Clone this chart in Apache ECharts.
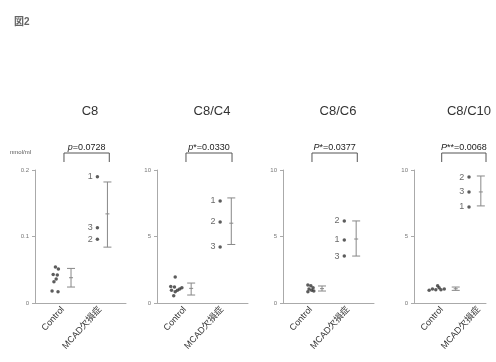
<!DOCTYPE html>
<html>
<head>
<meta charset="utf-8">
<script src="https://cdn.jsdelivr.net/npm/echarts@6/dist/echarts.min.js"></script>
<style>html,body{margin:0;padding:0;background:#fff;}#chart{width:496px;height:362px;}</style>
</head>
<body>
<div id="chart"></div>
<script>
// ---- data ----
const categories = ['Control', 'MCAD欠損症'];
const panelTitles = ['C8', 'C8/C4', 'C8/C6', 'C8/C10'];
const pTexts = ['{i|p}=0.0728', '{i|p}*=0.0330', '{i|P}*=0.0377', '{i|P}**=0.0068'];
const yMaxes = [0.2, 10, 10, 10];
const yIntervals = [0.1, 5, 5, 5];
const xMaxes = [2.7, 2.7, 2.7, 2.2];

// C8 (nmol/ml)
const c8CtrlX = [0.80, 0.88, 0.74, 0.85, 0.82, 0.76, 0.71, 0.87];
const c8CtrlY = [0.054, 0.051, 0.043, 0.042, 0.036, 0.032, 0.018, 0.017];
const c8McadX = [1.93, 1.93, 1.93];
const c8McadY = [0.190, 0.113, 0.096];
const c8McadIds = ['1', '3', '2'];
const c8Bars = [[1.22, 0.038, 0.024, 0.052], [2.20, 0.134, 0.084, 0.182]];

// C8/C4
const c4CtrlX = [0.74, 0.62, 0.72, 0.64, 0.74, 0.80, 0.86, 0.92, 0.70];
const c4CtrlY = [1.95, 1.25, 1.20, 0.95, 0.85, 0.95, 1.05, 1.15, 0.55];
const c4McadX = [1.95, 1.95, 1.95];
const c4McadY = [7.67, 6.09, 4.21];
const c4McadIds = ['1', '2', '3'];
const c4Bars = [[1.17, 1.10, 0.60, 1.50], [2.25, 6.00, 4.40, 7.90]];

// C8/C6
const c6CtrlX = [0.92, 1.00, 1.06, 0.95, 1.02, 0.92, 1.08];
const c6CtrlY = [1.35, 1.30, 1.15, 1.05, 0.95, 0.85, 0.90];
const c6McadX = [1.90, 1.90, 1.90];
const c6McadY = [6.17, 4.74, 3.53];
const c6McadIds = ['2', '1', '3'];
const c6Bars = [[1.30, 1.08, 0.90, 1.28], [2.22, 4.81, 3.53, 6.17]];

// C8/C10
const c10CtrlX = [0.66, 0.75, 0.84, 0.89, 0.93, 0.98, 1.07];
const c10CtrlY = [0.95, 1.05, 1.00, 1.30, 1.15, 1.00, 1.05];
const c10McadX = [1.74, 1.74, 1.74];
const c10McadY = [9.47, 8.35, 7.22];
const c10McadIds = ['2', '3', '1'];
const c10Bars = [[1.38, 1.07, 0.95, 1.20], [2.06, 8.35, 7.30, 9.55]];

const bracketXs = [[1.03, 2.25], [1.03, 2.27], [1.03, 2.25], [1.0, 2.2]];

const panels = [
  {cx: c8CtrlX, cy: c8CtrlY, mx: c8McadX, my: c8McadY, ids: c8McadIds, bars: c8Bars},
  {cx: c4CtrlX, cy: c4CtrlY, mx: c4McadX, my: c4McadY, ids: c4McadIds, bars: c4Bars},
  {cx: c6CtrlX, cy: c6CtrlY, mx: c6McadX, my: c6McadY, ids: c6McadIds, bars: c6Bars},
  {cx: c10CtrlX, cy: c10CtrlY, mx: c10McadX, my: c10McadY, ids: c10McadIds, bars: c10Bars}
];

// ---- layout ----
const FONT = "'Liberation Sans', 'Noto Sans CJK JP', sans-serif";
const gridLefts = [35, 157, 283, 414];
const gridWidths = [91, 91, 91, 72];
const GRID_TOP = 170, GRID_H = 133;

const chart = echarts.init(document.getElementById('chart'), null, {renderer: 'canvas'});

const grids = [], xAxes = [], yAxes = [], series = [], titles = [];

titles.push({text: '図2', left: 9, top: 12,
  textStyle: {fontSize: 10, fontWeight: 'bold', color: '#666', fontFamily: FONT}});
titles.push({text: 'nmol/ml', left: 26, top: 144, textAlign: 'right',
  textStyle: {fontSize: 6, fontWeight: 'normal', color: '#555', fontFamily: FONT}});

panels.forEach((p, i) => {
  grids.push({left: gridLefts[i], top: GRID_TOP, width: gridWidths[i], height: GRID_H});
  titles.push({text: panelTitles[i], left: gridLefts[i] + 50, top: 100, textAlign: 'center',
    textStyle: {fontSize: 13, fontWeight: 'normal', color: '#333', fontFamily: FONT}});
  xAxes.push({
    type: 'value', gridIndex: i, min: 0.25, max: xMaxes[i], interval: 0.25,
    splitLine: {show: false},
    axisLine: {show: true, onZero: false, lineStyle: {color: '#aaa', width: 1}},
    axisTick: {show: false},
    axisLabel: {
      rotate: 48, margin: 5, fontSize: 9, color: '#333', fontFamily: FONT,
      showMinLabel: false, showMaxLabel: false,
      formatter: v => Math.abs(v - 1) < 1e-6 ? categories[0] : (Math.abs(v - 2) < 1e-6 ? categories[1] : '')
    }
  });
  yAxes.push({
    type: 'value', gridIndex: i, min: 0, max: yMaxes[i], interval: yIntervals[i],
    splitLine: {show: false},
    axisLine: {show: true, lineStyle: {color: '#aaa', width: 1}},
    axisTick: {show: true, length: 3, lineStyle: {color: '#aaa'}},
    axisLabel: {fontSize: 6, color: '#777', margin: 6, fontFamily: FONT}
  });
  // control dots
  series.push({
    type: 'scatter', xAxisIndex: i, yAxisIndex: i, symbolSize: 3.5,
    itemStyle: {color: '#333'},
    data: p.cx.map((x, k) => [x, p.cy[k]])
  });
  // MCAD dots with patient numbers
  series.push({
    type: 'scatter', xAxisIndex: i, yAxisIndex: i, symbolSize: 3.5,
    itemStyle: {color: '#333'},
    label: {show: true, position: 'left', distance: 3, fontSize: 9, color: '#444', fontFamily: FONT,
      formatter: prm => p.ids[prm.dataIndex]},
    data: p.mx.map((x, k) => [x, p.my[k]])
  });
  // error bars (mean ± SD)
  series.push({
    type: 'custom', xAxisIndex: i, yAxisIndex: i, clip: false,
    encode: {x: 0, y: [1, 2, 3]},
    data: p.bars,
    renderItem: (params, api) => {
      const x = api.value(0);
      const pm = api.coord([x, api.value(1)]);
      const pl = api.coord([x, api.value(2)]);
      const ph = api.coord([x, api.value(3)]);
      const st = {stroke: '#888', lineWidth: 1};
      const cap = 4, mc = 2;
      return {type: 'group', children: [
        {type: 'line', shape: {x1: pl[0], y1: pl[1], x2: ph[0], y2: ph[1]}, style: st},
        {type: 'line', shape: {x1: pl[0] - cap, y1: pl[1], x2: pl[0] + cap, y2: pl[1]}, style: st},
        {type: 'line', shape: {x1: ph[0] - cap, y1: ph[1], x2: ph[0] + cap, y2: ph[1]}, style: st},
        {type: 'line', shape: {x1: pm[0] - mc, y1: pm[1], x2: pm[0] + mc, y2: pm[1]}, style: st}
      ]};
    }
  });
  // significance bracket + p-value
  series.push({
    type: 'custom', xAxisIndex: i, yAxisIndex: i, clip: false,
    encode: {x: [0, 2], y: 1},
    data: [[bracketXs[i][0], yMaxes[i], bracketXs[i][1]]],
    renderItem: (params, api) => {
      const a = api.coord([api.value(0), api.value(1)]);
      const b = api.coord([api.value(2), api.value(1)]);
      const yTop = a[1] - 17, yLeg = a[1] - 8;
      return {type: 'group', children: [
        {type: 'polyline', shape: {points: [[a[0], yLeg], [a[0], yTop], [b[0], yTop], [b[0], yLeg]]},
          style: {stroke: '#555', lineWidth: 1, fill: null}},
        {type: 'text', style: {
          text: pTexts[i], x: (a[0] + b[0]) / 2, y: yTop - 1, align: 'center', verticalAlign: 'bottom',
          fontSize: 9, fill: '#222', fontFamily: FONT,
          rich: {i: {fontStyle: 'italic', fontSize: 9, fill: '#222', fontFamily: FONT}}
        }}
      ]};
    }
  });
});

chart.setOption({
  backgroundColor: '#fff',
  animation: false,
  title: titles,
  grid: grids,
  xAxis: xAxes,
  yAxis: yAxes,
  series: series
});
</script>
</body>
</html>
